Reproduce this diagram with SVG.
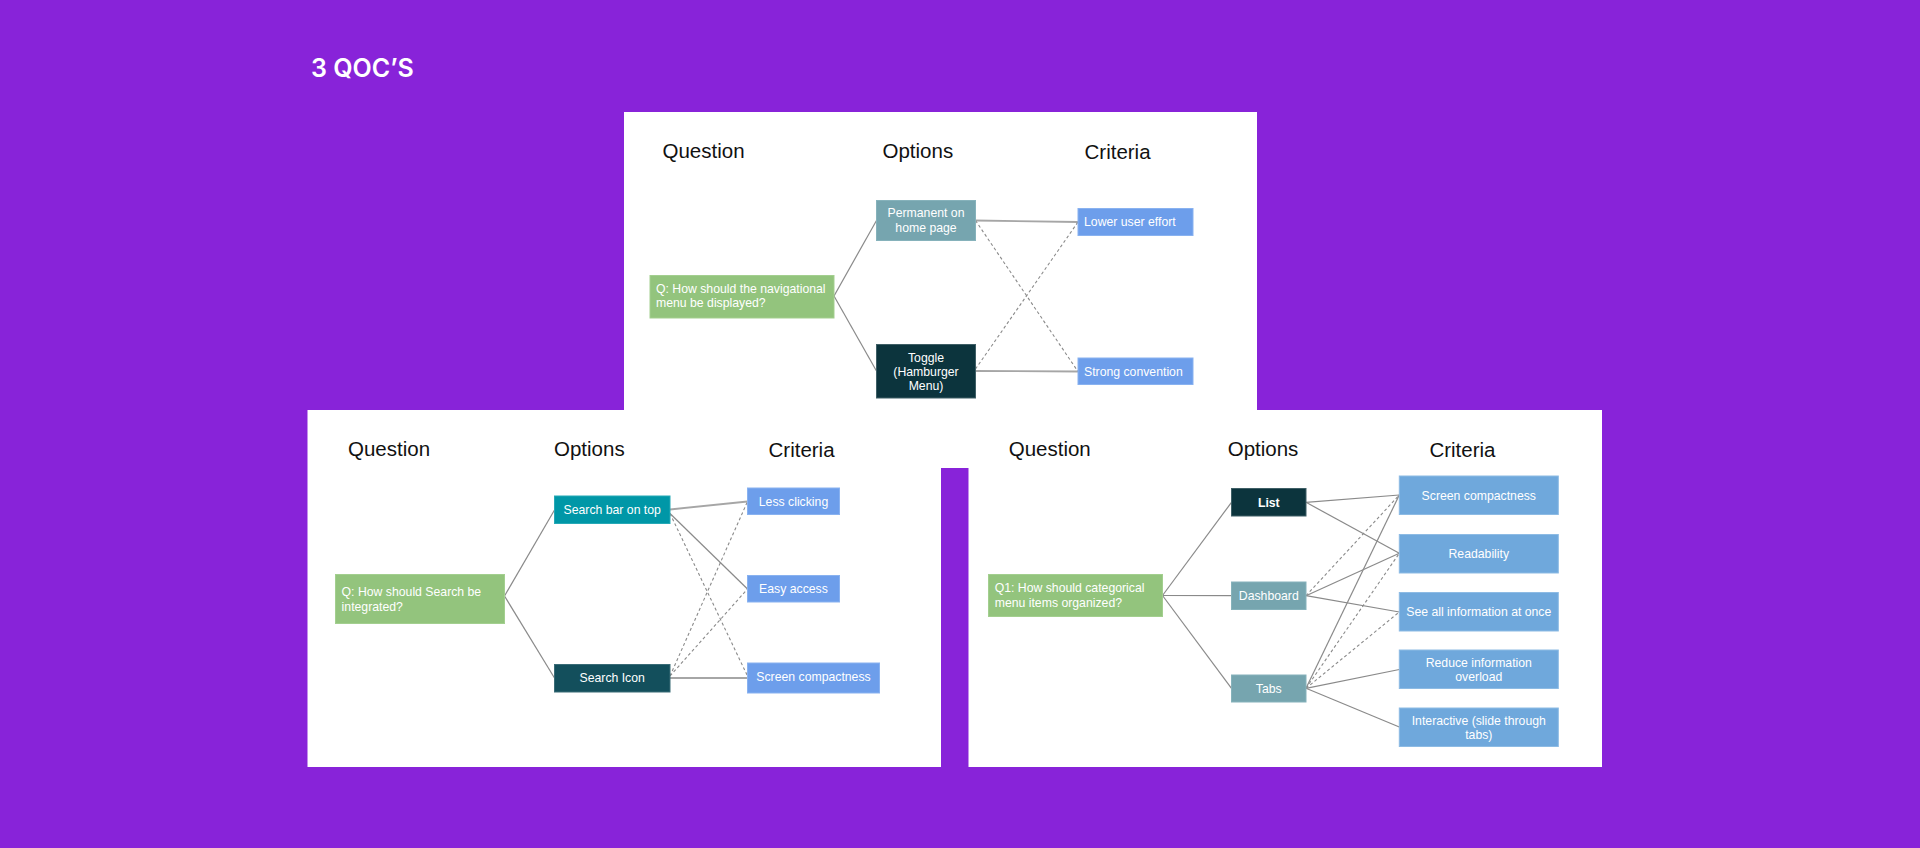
<svg xmlns="http://www.w3.org/2000/svg" width="1920" height="848" viewBox="0 0 1920 848">
<style>
.hd{font-family:"Liberation Sans",Arial,sans-serif;font-size:20.5px;fill:#111}
.bt{font-family:"Liberation Sans",Arial,sans-serif;font-size:12.25px;fill:#fff}
.c{text-anchor:middle}
.g{fill:#93C47D;stroke:#A3CF8F;stroke-width:1}
.tg{fill:#76A5AF;stroke:#86B2BB;stroke-width:1}
.dk{fill:#0C343D;stroke:#3F5F66;stroke-width:1}
.tl{fill:#0097A7;stroke:#27A9B6;stroke-width:1}
.ic{fill:#134F5C;stroke:#3A6C77;stroke-width:1}
.b1{fill:#6D9EEB;stroke:#89B2F0;stroke-width:1}
.b2{fill:#6FA8DC;stroke:#8DBBE4;stroke-width:1}
.s{stroke:#8a8a8a;stroke-width:1.2;fill:none}
.s2{stroke:#a6a6a6;stroke-width:1.8;fill:none}
.d{stroke:#8a8a8a;stroke-width:1.1;stroke-dasharray:3 2.5;fill:none}
</style>
<rect width="1920" height="848" fill="#8823D9"/>
<text x="311" y="76.7" font-family="Inter,'Noto Sans',sans-serif" font-size="25" font-weight="600" fill="#fff">3 QOC’S</text>
<g id="panels" fill="#fff">
<rect x="624" y="112" width="633" height="298.5"/>
<rect x="307.5" y="410" width="633.5" height="357"/>
<rect x="968.5" y="410" width="633.5" height="357"/>
<rect x="940" y="410" width="30" height="58"/>
</g>
<g id="headers">
<text class="hd" x="662.5" y="158">Question</text>
<text class="hd" x="882.5" y="158">Options</text>
<text class="hd" x="1084.5" y="159">Criteria</text>
<text class="hd" x="348" y="456">Question</text>
<text class="hd" x="554" y="456">Options</text>
<text class="hd" x="768.5" y="457">Criteria</text>
<text class="hd" x="1008.7" y="456">Question</text>
<text class="hd" x="1227.7" y="456">Options</text>
<text class="hd" x="1429.4" y="457">Criteria</text>
</g>
<g id="connectors">
<line class="s" x1="834" y1="296" x2="876.5" y2="220.5"/>
<line class="s" x1="834" y1="296" x2="876.5" y2="371"/>
<line class="s2" x1="975.5" y1="220.5" x2="1078" y2="222"/>
<line class="s2" x1="975.5" y1="371" x2="1078" y2="371.5"/>
<line class="d" x1="975.5" y1="220.5" x2="1078" y2="371.5"/>
<line class="d" x1="975.5" y1="369" x2="1078" y2="222"/>
<line class="s" x1="504.5" y1="596" x2="554.5" y2="510"/>
<line class="s" x1="504.5" y1="596" x2="554.5" y2="678"/>
<line class="s2" x1="670" y1="509.5" x2="747.5" y2="501.5"/>
<line class="s" x1="670" y1="513.5" x2="747.5" y2="589"/>
<line class="d" x1="670" y1="513.5" x2="747.5" y2="676"/>
<line class="s2" x1="670" y1="678" x2="747.5" y2="678"/>
<line class="d" x1="670" y1="676" x2="747.5" y2="501.5"/>
<line class="d" x1="670" y1="676" x2="747.5" y2="589"/>
<line class="s" x1="1162.5" y1="595.5" x2="1231.5" y2="502.3"/>
<line class="s" x1="1162.5" y1="595.5" x2="1231.5" y2="595.7"/>
<line class="s" x1="1162.5" y1="595.5" x2="1231.5" y2="688.3"/>
<line class="s" x1="1306" y1="502.3" x2="1399.3" y2="495"/>
<line class="s" x1="1306" y1="502.3" x2="1399.3" y2="553.3"/>
<line class="d" x1="1306" y1="595.7" x2="1399.3" y2="495"/>
<line class="s" x1="1306" y1="595.7" x2="1399.3" y2="553.3"/>
<line class="s" x1="1306" y1="595.7" x2="1399.3" y2="612"/>
<line class="s" x1="1306" y1="688.3" x2="1399.3" y2="495"/>
<line class="d" x1="1306" y1="688.3" x2="1399.3" y2="553.3"/>
<line class="d" x1="1306" y1="688.3" x2="1399.3" y2="612"/>
<line class="s" x1="1306" y1="688.3" x2="1399.3" y2="669.5"/>
<line class="s" x1="1306" y1="688.3" x2="1399.3" y2="727"/>
</g>
<g id="top-question"><rect class="g" x="650" y="275.5" width="184" height="42.5"/><text class="bt" x="656" y="293">Q: How should the navigational</text><text class="bt" x="656" y="307">menu be displayed?</text></g>
<g id="top-opt-permanent"><rect class="tg" x="876.5" y="200.5" width="99" height="40"/><text class="bt c" x="926" y="217">Permanent on</text><text class="bt c" x="926" y="231.5">home page</text></g>
<g id="top-opt-toggle"><rect class="dk" x="876.5" y="344.5" width="99" height="53.5"/><text class="bt c" x="926" y="361.7">Toggle</text><text class="bt c" x="926" y="376">(Hamburger</text><text class="bt c" x="926" y="390">Menu)</text></g>
<g id="top-crit-lower"><rect class="b1" x="1078" y="208.5" width="115" height="27"/><text class="bt" x="1084" y="226">Lower user effort</text></g>
<g id="top-crit-strong"><rect class="b1" x="1078" y="358" width="115" height="26.5"/><text class="bt" x="1084" y="375.5">Strong convention</text></g>
<g id="left-question"><rect class="g" x="335.5" y="574.5" width="169" height="49"/><text class="bt" x="341.6" y="596">Q: How should Search be</text><text class="bt" x="341.6" y="610.7">integrated?</text></g>
<g id="left-opt-searchbar"><rect class="tl" x="554.5" y="496" width="115.5" height="27.5"/><text class="bt c" x="612.2" y="513.5">Search bar on top</text></g>
<g id="left-opt-searchicon"><rect class="ic" x="554.5" y="664.5" width="115.5" height="27.5"/><text class="bt c" x="612.2" y="682">Search Icon</text></g>
<g id="left-crit-less"><rect class="b1" x="747.5" y="488" width="92" height="26.5"/><text class="bt c" x="793.5" y="505.5">Less clicking</text></g>
<g id="left-crit-easy"><rect class="b1" x="747.5" y="575.5" width="92" height="26.5"/><text class="bt c" x="793.5" y="593">Easy access</text></g>
<g id="left-crit-screen"><rect class="b1" x="747.5" y="663" width="132" height="30"/><text class="bt c" x="813.5" y="680.5">Screen compactness</text></g>
<g id="right-question"><rect class="g" x="988.5" y="574.5" width="174" height="42"/><text class="bt" x="994.7" y="592">Q1: How should categorical</text><text class="bt" x="994.7" y="606.7">menu items organized?</text></g>
<g id="right-opt-list"><rect class="dk" x="1231.5" y="488.5" width="74.5" height="27.5"/><text class="bt c" x="1268.8" y="506.7" font-weight="bold">List</text></g>
<g id="right-opt-dashboard"><rect class="tg" x="1231.5" y="582" width="74.5" height="27.5"/><text class="bt c" x="1268.8" y="600">Dashboard</text></g>
<g id="right-opt-tabs"><rect class="tg" x="1231.5" y="675" width="74.5" height="27"/><text class="bt c" x="1268.8" y="692.8">Tabs</text></g>
<g id="right-crit-screen"><rect class="b2" x="1399.3" y="476" width="159" height="38.5"/><text class="bt c" x="1478.8" y="499.5">Screen compactness</text></g>
<g id="right-crit-readability"><rect class="b2" x="1399.3" y="534.5" width="159" height="38.5"/><text class="bt c" x="1478.8" y="557.8">Readability</text></g>
<g id="right-crit-seeall"><rect class="b2" x="1399.3" y="592.5" width="159" height="38.5"/><text class="bt c" x="1478.8" y="615.8">See all information at once</text></g>
<g id="right-crit-reduce"><rect class="b2" x="1399.3" y="650" width="159" height="38.5"/><text class="bt c" x="1478.8" y="666.7">Reduce information</text><text class="bt c" x="1478.8" y="680.9">overload</text></g>
<g id="right-crit-interactive"><rect class="b2" x="1399.3" y="708" width="159" height="38.5"/><text class="bt c" x="1478.8" y="724.7">Interactive (slide through</text><text class="bt c" x="1478.8" y="738.9">tabs)</text></g>
</svg>
